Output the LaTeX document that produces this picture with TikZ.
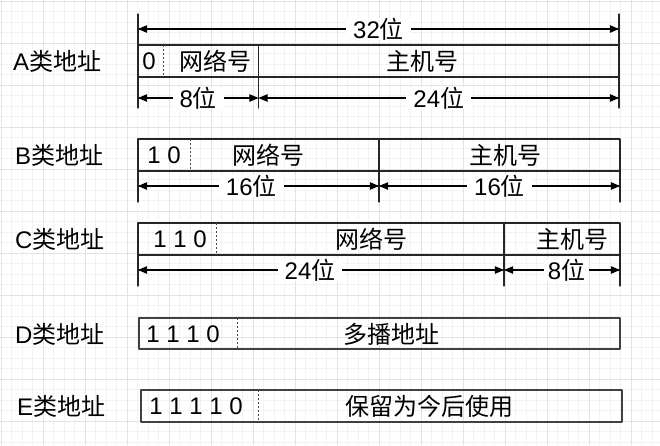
\documentclass[tikz,border=0pt]{standalone}
\usepackage{fontspec}
\setmainfont{Liberation Sans}
\newfontfamily\cjk{Noto Sans CJK SC}
\usetikzlibrary{arrows}

\tikzset{
  gridminor/.style={line width=0.6pt,black!5},
  gridmajor/.style={line width=0.6pt,black!11},
  field/.style={line width=1.1pt,black!85},
  fieldthick/.style={line width=1.8pt,black!75},
  split/.style={line width=0.9pt,black!70,line cap=butt,dash pattern=on 2pt off 2pt},
  dim/.style={line width=1.1pt,<->},
  dimlabel/.style={fill=white,inner xsep=7pt,inner ysep=0pt},
  rowlabel/.style={anchor=west,inner sep=0pt},
}

\begin{document}
\begin{tikzpicture}[line cap=round,line join=round,>=triangle 45,x=1pt,y=-1pt,font=\fontsize{24}{28}\selectfont]
\useasboundingbox (0,0) rectangle (660,445);
\fill[white] (0,0) rectangle (660,445);
% background grid
\foreach \g in {0,...,62} \draw[gridminor] ({1+10.5*\g},0) -- ++(0,445);
\foreach \g in {0,...,42} \draw[gridminor] (0,{1+10.5*\g}) -- ++(660,0);
\foreach \g in {1,43,...,660} \draw[gridmajor] (\g,0) -- ++(0,445);
\foreach \g in {1,43,...,445} \draw[gridmajor] (0,\g) -- ++(660,0);
%
\begin{scope}[shift={(0,45)}]
\node[rowlabel] (alabel) at (13,16) {A\cjk 类地址};
\draw[field] (138,0) rectangle (619,32);
\draw[split] (163,0) -- (163,32);
\draw[field] (258.5,0) -- (258.5,63);
\draw[field] (138,-31) -- (138,63);
\draw[field] (619,-31) -- (619,63);
\node (abits) at (149,16) {0};
\node (anet) at (215,16) {\cjk 网络号};
\node (ahost) at (422,16) {\cjk 主机号};
\coordinate (aTL) at (138,-16);
\coordinate (aTR) at (619,-16);
\coordinate (aBL) at (138,53);
\coordinate (aBM) at (258.5,53);
\coordinate (aBR) at (619,53);
\draw[dim] (aTL) -- node[dimlabel] (a32) {32\cjk 位} (aTR);
\draw[dim] (aBL) -- node[dimlabel] (a8) {8\cjk 位} (aBM);
\draw[dim] (aBM) -- node[dimlabel] (a24) {24\cjk 位} (aBR);
\end{scope}
%
\begin{scope}[shift={(0,139)}]
\node[rowlabel] (blabel) at (15,16) {B\cjk 类地址};
\draw[field] (138,0) rectangle (620,32);
\draw[split] (190,0) -- (190,32);
\draw[field] (379,0) -- (379,63);
\draw[field] (138,32) -- (138,63);
\draw[field] (620,32) -- (620,63);
\node (bbits) at (164,16) {1 0};
\node (bnet) at (268,16) {\cjk 网络号};
\node (bhost) at (505,16) {\cjk 主机号};
\coordinate (bL) at (138,47);
\coordinate (bM) at (379,47);
\coordinate (bR) at (620,47);
\draw[dim] (bL) -- node[dimlabel,pos=0.47] (b16l) {16\cjk 位} (bM);
\draw[dim] (bM) -- node[dimlabel] (b16r) {16\cjk 位} (bR);
\end{scope}
%
\begin{scope}[shift={(0,223)}]
\node[rowlabel] (clabel) at (15,16) {C\cjk 类地址};
\draw[field] (138,0) rectangle (620,32);
\draw[split] (216,0) -- (216,32);
\draw[field] (504,0) -- (504,63);
\draw[field] (138,32) -- (138,63);
\draw[field] (620,32) -- (620,63);
\node (cbits) at (180,16) {1 1 0};
\node (cnet) at (371,16) {\cjk 网络号};
\node (chost) at (572,16) {\cjk 主机号};
\coordinate (cL) at (138,47);
\coordinate (cM) at (504,47);
\coordinate (cR) at (620,47);
\draw[dim] (cL) -- node[dimlabel,pos=0.47] (c24) {24\cjk 位} (cM);
\draw[dim] (cM) -- node[dimlabel,pos=0.54,inner xsep=4pt] (c8) {8\cjk 位} (cR);
\end{scope}
%
\begin{scope}[shift={(0,318)}]
\node[rowlabel] (dlabel) at (15,16) {D\cjk 类地址};
\draw[fieldthick] (139,0) rectangle (620,31);
\draw[split] (237,0) -- (237,31);
\node (dbits) at (183,16) {1 1 1 0};
\node (dmulti) at (391,16) {\cjk 多播地址};
\end{scope}
%
\begin{scope}[shift={(0,390)}]
\node[rowlabel] (elabel) at (17,16) {E\cjk 类地址};
\draw[fieldthick] (141,0) rectangle (622,32);
\draw[split] (258,0) -- (258,32);
\node (ebits) at (196,16) {1 1 1 1 0};
\node (ekeep) at (429,16) {\cjk 保留为今后使用};
\end{scope}
\end{tikzpicture}
\end{document}
